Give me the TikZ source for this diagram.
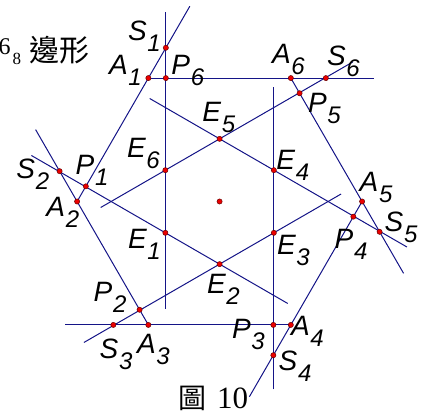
\documentclass[tikz,border=0pt]{standalone}
\usepackage{fontspec}
\newfontfamily\arialf{Liberation Sans}
\newfontfamily\timesf{Liberation Serif}
\newfontfamily\cjk{Noto Sans CJK TC}
\usetikzlibrary{calc}
\definecolor{navy}{RGB}{20,20,135}
\definecolor{dotred}{RGB}{235,0,0}
\newcommand{\plab}[2]{{\arialf\itshape\fontsize{28}{28}\selectfont #1\kern0.8pt\raisebox{-11pt}{\fontsize{24}{24}\selectfont #2}}}
\begin{document}
\begin{tikzpicture}[x=1pt,y=1pt,
  ln/.style={draw=navy, line width=1pt},
  dot/.style={circle, fill=dotred, draw=red!40!black, line width=0.5pt, inner sep=0pt, minimum size=5.2pt},
  lbl/.style={anchor=base west, inner sep=0pt}]
\useasboundingbox (0,0) rectangle (429,417);
\coordinate (C) at (219.6,215.5);
\foreach \i/\a in {5/0,6/60,1/120,2/180,3/240,4/300}
  \coordinate (A\i) at ($(C)+(\a:142.5)$);
% points on sides, S points, extension ends
\foreach \k/\n in {1/2,2/3,3/4,4/5,5/6,6/1}{
  \coordinate (P\k) at ($(A\n)!0.1228!(A\k)$);
}
\foreach \k/\n in {1/2,2/3,3/4,4/5,5/6,6/1}{
  \coordinate (S\k) at ($(A\n)!1.2456!(A\k)$);
  \coordinate (X\k) at ($(A\n)!1.582!(A\k)$);
}
% perpendicular lines
\foreach \k/\t/\o/\e in {1/150/186/-110,2/210/188/-109,3/270/188/-114,4/330/185/-112,5/30/185/-106,6/90/189/-108}{
  \coordinate (L\k a) at ($(C)+(\t:\o)+(\t+90:54.25)$);
  \coordinate (L\k b) at ($(C)+(\t:\e)+(\t+90:54.25)$);
}
\foreach \k/\a in {1/210,2/270,3/330,4/30,5/90,6/150}
  \coordinate (E\k) at ($(C)+(\a:62.64)$);
% extended sides
\draw[ln] (A2) -- (X1);
\draw[ln] (A3) -- (X2);
\draw[ln] (A4) -- (X3);
\draw[ln] (A5) -- (X4);
\draw[ln] (A6) -- (X5);
\draw[ln] (A1) -- (X6);
% perpendiculars
\foreach \k in {1,...,6} \draw[ln] (L\k a) -- (L\k b);
% dots
\foreach \k in {1,...,6}{
  \node[dot] (dA\k) at (A\k) {};
  \node[dot] (dP\k) at (P\k) {};
  \node[dot] (dS\k) at (S\k) {};
  \node[dot] (dE\k) at (E\k) {};
}
\node[dot] (dC) at (C) {};
% labels (left edge, baseline)
\node[lbl] (tS1) at (127.8,376.3) {\plab{S}{1}};
\node[lbl] (tA1) at (108.8,342) {\plab{A}{1}};
\node[lbl] (tP6) at (171.2,342) {\plab{P}{6}};
\node[lbl] (tE6) at (126.8,259.5) {\plab{E}{6}};
\node[lbl] (tS2) at (16.2,238) {\plab{S}{2}};
\node[lbl] (tP1) at (75.5,242) {\plab{P}{1}};
\node[lbl] (tA2) at (46.2,200.3) {\plab{A}{2}};
\node[lbl] (tA6) at (271.8,353.7) {\plab{A}{6}};
\node[lbl] (tS6) at (326.8,351.3) {\plab{S}{6}};
\node[lbl] (tP5) at (307.8,304.3) {\plab{P}{5}};
\node[lbl] (tE5) at (202.2,295.3) {\plab{E}{5}};
\node[lbl] (tE4) at (276.2,247.5) {\plab{E}{4}};
\node[lbl] (tA5) at (359.5,225.3) {\plab{A}{5}};
\node[lbl] (tS5) at (384.5,185.3) {\plab{S}{5}};
\node[lbl] (tP4) at (334.5,168.7) {\plab{P}{4}};
\node[lbl] (tE3) at (276.8,162) {\plab{E}{3}};
\node[lbl] (tE2) at (206.8,123) {\plab{E}{2}};
\node[lbl] (tP3) at (231.8,78.3) {\plab{P}{3}};
\node[lbl] (tA4) at (290.8,81.7) {\plab{A}{4}};
\node[lbl] (tS4) at (278.5,46) {\plab{S}{4}};
\node[lbl] (tE1) at (127.8,168.7) {\plab{E}{1}};
\node[lbl] (tP2) at (93.5,115) {\plab{P}{2}};
\node[lbl] (tS3) at (99.5,58.3) {\plab{S}{3}};
\node[lbl] (tA3) at (136.8,63.3) {\plab{A}{3}};
% texts
\node[lbl] (t6) at (-1.5,362) {\timesf\fontsize{24}{24}\selectfont 6};
\node[lbl] (t8) at (12.5,352) {\timesf\fontsize{17}{17}\selectfont 8};
\node[lbl] (tpoly) at (29,355.5) {\cjk\fontsize{30}{30}\selectfont 邊形};
\node[lbl] (tfig) at (178,8.5) {\cjk\fontsize{28}{28}\selectfont 圖};
\node[lbl] (tnum) at (217,8.7) {\timesf\fontsize{31}{31}\selectfont 10};
\end{tikzpicture}
\end{document}
